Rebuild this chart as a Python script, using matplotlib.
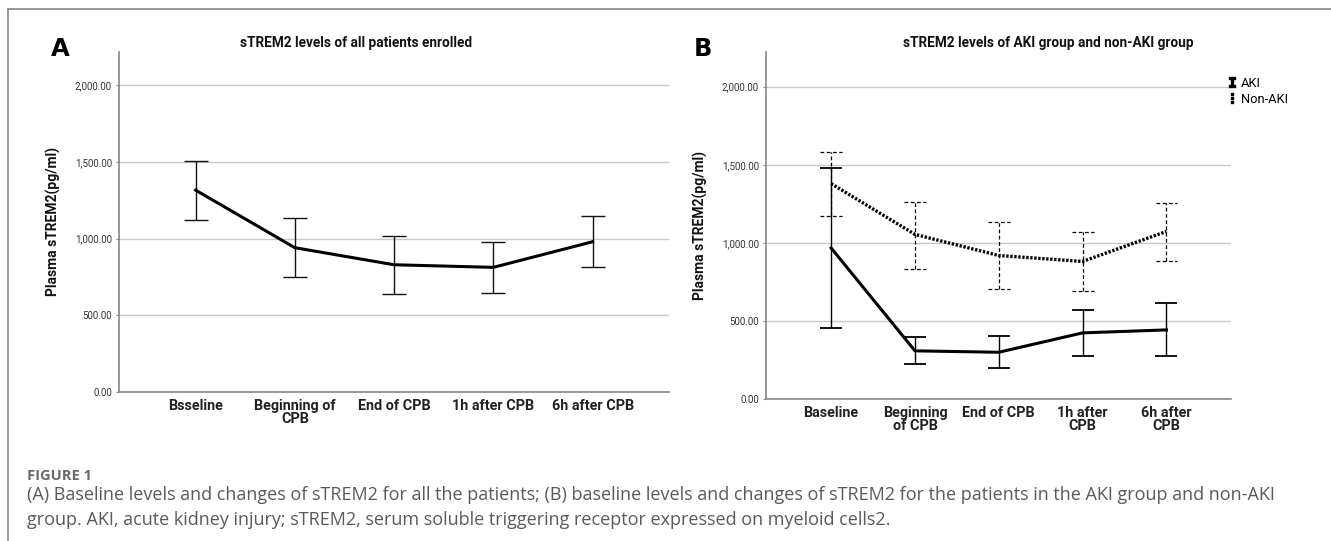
import matplotlib
matplotlib.use("Agg")
import matplotlib.pyplot as plt
from matplotlib.lines import Line2D
import numpy as np

# ---- data ----
cats_a = ["Bsseline", "Beginning of\nCPB", "End of CPB", "1h after CPB", "6h after CPB"]
mean_a = [1315, 940, 829, 812, 979]
upper_a = [1506, 1132, 1019, 974, 1145]
lower_a = [1123, 747, 638, 647, 812]

cats_b = ["Baseline", "Beginning\nof CPB", "End of CPB", "1h after\nCPB", "6h after\nCPB"]
mean_aki = [968, 310, 301, 425, 444]
upper_aki = [1483, 397, 404, 574, 613]
lower_aki = [453, 226, 203, 280, 276]
mean_non = [1380, 1055, 920, 882, 1074]
upper_non = [1585, 1263, 1135, 1068, 1258]
lower_non = [1173, 833, 705, 692, 888]

yticks = [0, 500, 1000, 1500, 2000]
ytick_labels = ["0.00", "500.00", "1,000.00", "1,500.00", "2,000.00"]

W, H = 1331, 541
fig = plt.figure(figsize=(W / 100, H / 100), dpi=100)

chart_font = ["Roboto", "DejaVu Sans"]
cap_font = ["Open Sans", "DejaVu Sans"]

def box(l, r, t, b):
    return [l / W, 1 - b / H, (r - l) / W, (b - t) / H]

def style(ax, cats, xlim, ylim):
    ax.set_xlim(*xlim)
    ax.set_ylim(*ylim)
    ax.set_yticks(yticks)
    ax.set_yticklabels(ytick_labels, fontsize=7, color="#333333", family=chart_font)
    ax.set_xticks(range(len(cats)))
    ax.set_xticklabels(cats, fontsize=10.4, fontweight="bold", color="#222222",
                       family=chart_font, linespacing=0.9)
    for s in ["top", "right"]:
        ax.spines[s].set_visible(False)
    for s in ["left", "bottom"]:
        ax.spines[s].set_color("#888888")
        ax.spines[s].set_linewidth(1.2)
    ax.tick_params(axis="x", length=0, pad=5)
    ax.tick_params(axis="y", length=2, color="#888888", pad=3)
    ax.grid(axis="y", color="#c8c8c8", linewidth=1.0)
    ax.set_axisbelow(True)
    ax.set_ylabel("Plasma sTREM2(pg/ml)", fontsize=10, fontweight="bold",
                  family=chart_font, color="#111111")

# ---- panel A ----
axA = fig.add_axes(box(119, 669, 52, 392))
xa = np.arange(len(cats_a))
ma = np.array(mean_a)
axA.errorbar(xa, ma, yerr=[ma - np.array(lower_a), np.array(upper_a) - ma],
             fmt="none", ecolor="#111111", elinewidth=1.0, capsize=8.5, capthick=1.0)
axA.plot(xa, ma, color="black", linewidth=2.2)
style(axA, cats_a, (-0.772, 4.77), (0, 2215))
axA.yaxis.set_label_coords((61 - 119) / 550, 0.5)

# ---- panel B ----
axB = fig.add_axes(box(766, 1231, 52, 399.3))
xb = np.arange(len(cats_b))
mk = np.array(mean_aki)
mn = np.array(mean_non)
axB.errorbar(xb, mk, yerr=[mk - np.array(lower_aki), np.array(upper_aki) - mk],
             fmt="none", ecolor="black", elinewidth=1.0, capsize=7.8, capthick=1.3)
axB.plot(xb, mk, color="black", linewidth=2.2)
eb_non = axB.errorbar(xb, mn, yerr=[mn - np.array(lower_non), np.array(upper_non) - mn],
                      fmt="none", ecolor="black", elinewidth=0.9, capsize=0)
eb_non[2][0].set_linestyle((0, (3, 2)))
cw = 0.13
axB.hlines(upper_non, xb - cw, xb + cw, colors="black", linewidth=0.9, linestyles=(0, (3, 2)))
axB.hlines(lower_non, xb - cw, xb + cw, colors="black", linewidth=0.9, linestyles=(0, (3, 2)))
axB.plot(xb, mn, color="black", linewidth=2.4, linestyle=(0, (0.7, 0.5)))
style(axB, cats_b, (-0.777, 4.77), (0, 2222))
axB.yaxis.set_label_coords((708 - 766) / 465, 0.5)

h_aki = Line2D([], [], linestyle="none", marker=r"$\mathtt{I}$", color="black", markersize=6.5)
h_non = Line2D([], [], linestyle="none", marker=r"$\vdots$", color="black", markersize=6.5)
fig.legend(handles=[h_aki, h_non], labels=["AKI", "Non-AKI"], loc="upper left",
           bbox_to_anchor=(1228 / W, 1 - 77 / H), bbox_transform=fig.transFigure,
           frameon=False, handlelength=0.6, handletextpad=0.4, labelspacing=0.2,
           borderaxespad=0.0, borderpad=0.0,
           prop={"family": chart_font, "size": 9.3})

# titles and panel letters
fig.text(356 / W, 1 - 42.5 / H, "sTREM2 levels of all patients enrolled", ha="center",
         va="center", fontsize=9.8, fontweight="bold", family=chart_font, color="#111111")
fig.text(1048 / W, 1 - 42.5 / H, "sTREM2 levels of AKI group and non-AKI group", ha="center",
         va="center", fontsize=9.8, fontweight="bold", family=chart_font, color="#111111")
fig.text(60 / W, 1 - 48.5 / H, "A", ha="center", va="center", fontsize=17.5, fontweight="bold",
         family=["DejaVu Sans"])
fig.text(703 / W, 1 - 48.5 / H, "B", ha="center", va="center", fontsize=17.5, fontweight="bold",
         family=["DejaVu Sans"])

# frame lines
fig.add_artist(Line2D([8 / W, 1], [1 - 9 / H, 1 - 9 / H], color="#888888", linewidth=1.2))
fig.add_artist(Line2D([8 / W, 8 / W], [0, 1 - 9 / H], color="#888888", linewidth=1.2))

# caption
fig.text(27 / W, 1 - 476 / H, "FIGURE 1", ha="left", va="center", fontsize=10.5,
         fontweight="bold", family=cap_font, color="#6a6a6a")
fig.text(27 / W, 1 - 495 / H,
         "(A) Baseline levels and changes of sTREM2 for all the patients; (B) baseline levels and changes of sTREM2 for the patients in the AKI group and non-AKI",
         ha="left", va="center", fontsize=13.0, family=cap_font, color="#5a5a5a")
fig.text(27 / W, 1 - 520 / H,
         "group. AKI, acute kidney injury; sTREM2, serum soluble triggering receptor expressed on myeloid cells2.",
         ha="left", va="center", fontsize=13.0, family=cap_font, color="#5a5a5a")

fig.savefig("out.png", dpi=100)
